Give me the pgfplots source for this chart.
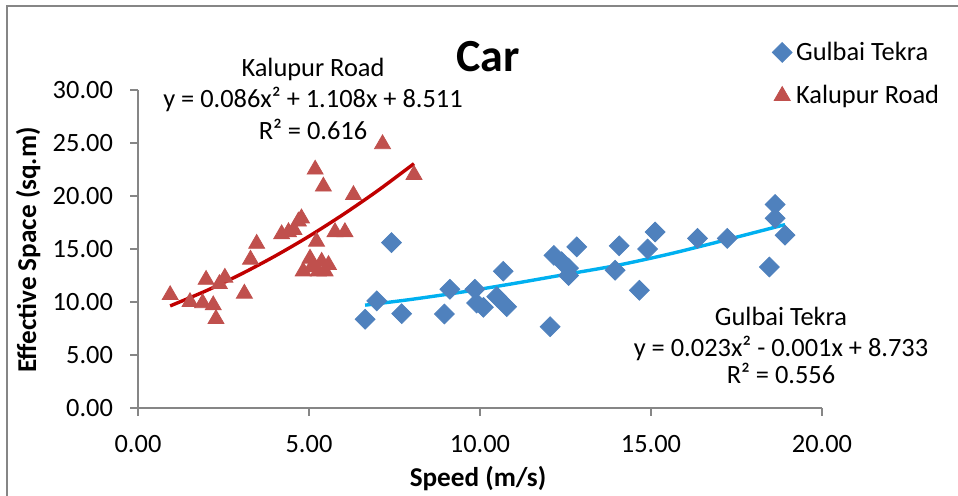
\documentclass[border=0pt]{standalone}
\usepackage{fontspec}
\setmainfont{Carlito}
\usepackage{pgfplots}
\pgfplotsset{compat=1.18}
\definecolor{GulbaiBlue}{HTML}{4F81BD}
\definecolor{KalupurRed}{HTML}{C0504D}
\definecolor{TrendRed}{HTML}{C00000}
\definecolor{TrendBlue}{HTML}{00B0F0}
\definecolor{AxisGray}{HTML}{868686}

\begin{document}
\begin{tikzpicture}
  \path[use as bounding box] (0,0) rectangle (479pt,248pt);
  \draw[AxisGray, line width=0.6pt] (3.5pt,0) -- (3.5pt,245pt) -- (479pt,245pt);

  \begin{axis}[
    at={(69pt,44pt)}, anchor=south west,
    width=342pt, height=159pt, scale only axis,
    xmin=0, xmax=20, ymin=0, ymax=30,
    xtick={0,5,...,20}, ytick={0,5,...,30},
    axis lines*=left,
    axis line style={AxisGray, line width=0.6pt},
    tick style={AxisGray, line width=0.6pt},
    major tick length=4pt, tick align=outside,
    ticklabel style={font=\fontsize{13.2}{15}\selectfont, text=black},
    xticklabel style={yshift=-6pt},
    yticklabel style={xshift=-5pt},
    /pgf/number format/.cd, fixed, zerofill, precision=2, assume math mode=true,
    /pgfplots/.cd,
    clip=false,
    legend style={draw=none, fill=none, at={(0.918,1.178)}, anchor=north west,
      font=\fontsize{13.2}{15}\selectfont, row sep=7pt},
    legend cell align=left,
  ]
    % Gulbai Tekra
    \addplot[only marks, mark=square*, mark size=3.5pt,
      mark options={rotate=45, fill=GulbaiBlue, draw=GulbaiBlue}] coordinates {
      (6.64,8.37) (6.98,10.1) (7.41,15.6) (7.71,8.9) (8.96,8.87) (9.12,11.2)
      (9.85,11.2) (9.90,9.9) (10.10,9.5) (10.49,10.5) (10.68,12.9) (10.78,9.56)
      (12.05,7.67) (12.16,14.4) (12.39,13.8) (12.59,13.2) (12.59,12.5) (12.83,15.2)
      (13.95,13.0) (14.07,15.3) (14.66,11.1) (14.90,15.0) (15.12,16.6) (16.36,16.0)
      (17.23,16.0) (18.46,13.3) (18.63,19.2) (18.63,17.9) (18.92,16.3)
    };
    \addlegendentry{Gulbai Tekra}
    % Kalupur Road
    \addplot[only marks, mark=triangle*, mark size=4.6pt,
      mark options={fill=KalupurRed, draw=KalupurRed}] coordinates {
      (0.94,10.66) (1.52,10.0) (1.89,9.9) (1.99,12.1) (2.20,9.7) (2.28,8.4)
      (2.38,11.7) (2.54,12.3) (3.11,10.8) (3.29,14.0) (3.47,15.5) (4.20,16.4)
      (4.40,16.6) (4.56,16.8) (4.69,17.6) (4.78,17.9) (4.83,12.9) (5.03,14.1)
      (5.08,13.3) (5.18,22.5) (5.22,15.7) (5.27,12.9) (5.37,13.8) (5.42,20.9)
      (5.47,12.9) (5.57,13.5) (5.76,16.6) (6.05,16.6) (6.30,20.1) (7.15,24.9)
      (8.07,22.0)
    };
    \addlegendentry{Kalupur Road}
    % trendlines
    \addplot[forget plot, TrendRed, line width=1.7pt, smooth] coordinates {
      (0.94,9.63) (2,11.07) (3,12.61) (4,14.32) (5,16.20) (6,18.26) (7,20.48) (8.07,23.05)
    };
    \addplot[forget plot, TrendBlue, line width=1.7pt, smooth] coordinates {
      (6.64,9.7) (8,10.25) (9.5,10.95) (11,11.75) (12.5,12.6) (14,13.45)
      (15.5,14.5) (17,15.7) (18.92,17.3)
    };
  \end{axis}

  \node[font=\bfseries\fontsize{23}{26}\selectfont, anchor=base] at (244pt,212pt) {Car};
  \node[font=\bfseries\fontsize{13.6}{15}\selectfont, anchor=base] at (239pt,4.5pt) {Speed (m/s)};
  \node[font=\bfseries\fontsize{13.6}{15}\selectfont, anchor=base, rotate=90] at (18pt,123pt) {Effective Space (sq.m)};

  \begin{scope}[every node/.style={font=\fontsize{13.2}{15}\selectfont, anchor=base, inner sep=0pt}]
    \node at (156.5pt,209.5pt) {Kalupur Road};
    \node at (156.5pt,194pt) {y = 0.086x² + 1.108x + 8.511};
    \node at (156.5pt,178pt) {R² = 0.616};
    \node at (390.5pt,85pt) {Gulbai Tekra};
    \node at (390.5pt,69.5pt) {y = 0.023x² - 0.001x + 8.733};
    \node at (390.5pt,56pt) {R² = 0.556};
  \end{scope}
\end{tikzpicture}
\end{document}
